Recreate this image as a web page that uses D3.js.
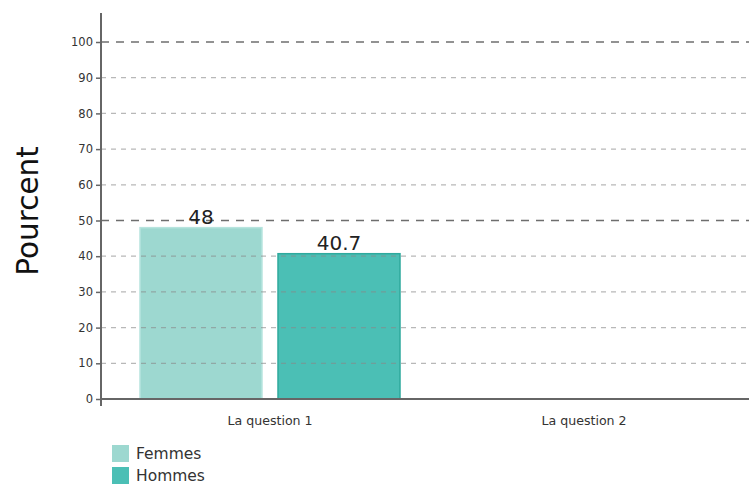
<!DOCTYPE html>
<html>
<head>
<meta charset="utf-8">
<script src="https://cdn.jsdelivr.net/npm/d3@7"></script>
<style>
body { margin: 0; background: #fff; }
svg { display: block; }
</style>
</head>
<body>
<svg id="chart" width="749" height="484"></svg>
<script>
const categories = ["La question 1", "La question 2"];
const seriesNames = ["Femmes", "Hommes"];
const femmesValues = [48, null];
const hommesValues = [40.7, null];
const yTicks = [0, 10, 20, 30, 40, 50, 60, 70, 80, 90, 100];
const colors = ["#9dd8d0", "#4bbfb5"];
const strokes = ["#b7e4de", "#2ea99d"];

const svg = d3.select("#chart");
const font = "DejaVu Sans, sans-serif";

const y = d3.scaleLinear().domain([0, 100]).range([399, 42]);
const x0 = d3.scaleBand().domain(categories).range([113, 741]).paddingInner(0).paddingOuter(0);
const x1 = d3.scaleBand().domain(seriesNames).range([27, 287]).paddingInner(0.116).paddingOuter(0);

const seriesData = [femmesValues, hommesValues];

// bars
categories.forEach((c, ci) => {
  seriesNames.forEach((s, si) => {
    const v = seriesData[si][ci];
    if (v == null) return;
    svg.append("rect")
      .attr("x", x0(c) + x1(s))
      .attr("y", y(v))
      .attr("width", x1.bandwidth())
      .attr("height", y(0) - y(v))
      .attr("fill", colors[si])
      .attr("stroke", strokes[si])
      .attr("stroke-width", 1.5);
  });
});

// grid lines
yTicks.filter(t => t > 0).forEach(t => {
  const major = t % 50 === 0;
  svg.append("line")
    .attr("x1", 101).attr("x2", 749)
    .attr("y1", y(t)).attr("y2", y(t))
    .attr("stroke", major ? "#555" : "#888")
    .attr("stroke-opacity", major ? 0.85 : 0.6)
    .attr("stroke-width", major ? 1.6 : 1.2)
    .attr("stroke-dasharray", major ? "8,7" : "5,5");
});

// value labels
categories.forEach((c, ci) => {
  seriesNames.forEach((s, si) => {
    const v = seriesData[si][ci];
    if (v == null) return;
    svg.append("text")
      .attr("x", x0(c) + x1(s) + x1.bandwidth() / 2)
      .attr("y", y(v) - 4)
      .attr("text-anchor", "middle")
      .attr("font-family", font)
      .attr("font-size", 20)
      .attr("fill", "#222")
      .text(v);
  });
});

// y axis
const yAxis = d3.axisLeft(y).tickValues(yTicks).tickSize(5).tickPadding(3);
const gy = svg.append("g").attr("transform", "translate(101,0)").call(yAxis);
gy.select(".domain").remove();
gy.selectAll(".tick line").attr("stroke", "#666").attr("stroke-width", 1.5);
gy.selectAll(".tick text").attr("font-family", font).attr("font-size", 11.5).attr("fill", "#333");
svg.append("line").attr("x1", 101).attr("x2", 101).attr("y1", 13).attr("y2", 406)
  .attr("stroke", "#666").attr("stroke-width", 2);

// x axis
const xAxis = d3.axisBottom(x0).tickSize(0).tickPadding(17);
const gx = svg.append("g").attr("transform", "translate(0,399)").call(xAxis);
gx.select(".domain").remove();
gx.selectAll(".tick text").attr("font-family", font).attr("font-size", 12.6).attr("fill", "#333");
svg.append("line").attr("x1", 100).attr("x2", 749).attr("y1", 399).attr("y2", 399)
  .attr("stroke", "#666").attr("stroke-width", 2);

// y title
svg.append("text")
  .attr("transform", "translate(38,211) rotate(-90)")
  .attr("text-anchor", "middle")
  .attr("font-family", font)
  .attr("font-size", 29.5)
  .attr("fill", "#111")
  .text("Pourcent");

// legend
seriesNames.forEach((s, i) => {
  const g = svg.append("g").attr("transform", `translate(112,${445 + i * 22})`);
  g.append("rect").attr("width", 17).attr("height", 17).attr("fill", colors[i]);
  g.append("text").attr("x", 24).attr("y", 14)
    .attr("font-family", font).attr("font-size", 15.5).attr("fill", "#333").text(s);
});
</script>
</body>
</html>
